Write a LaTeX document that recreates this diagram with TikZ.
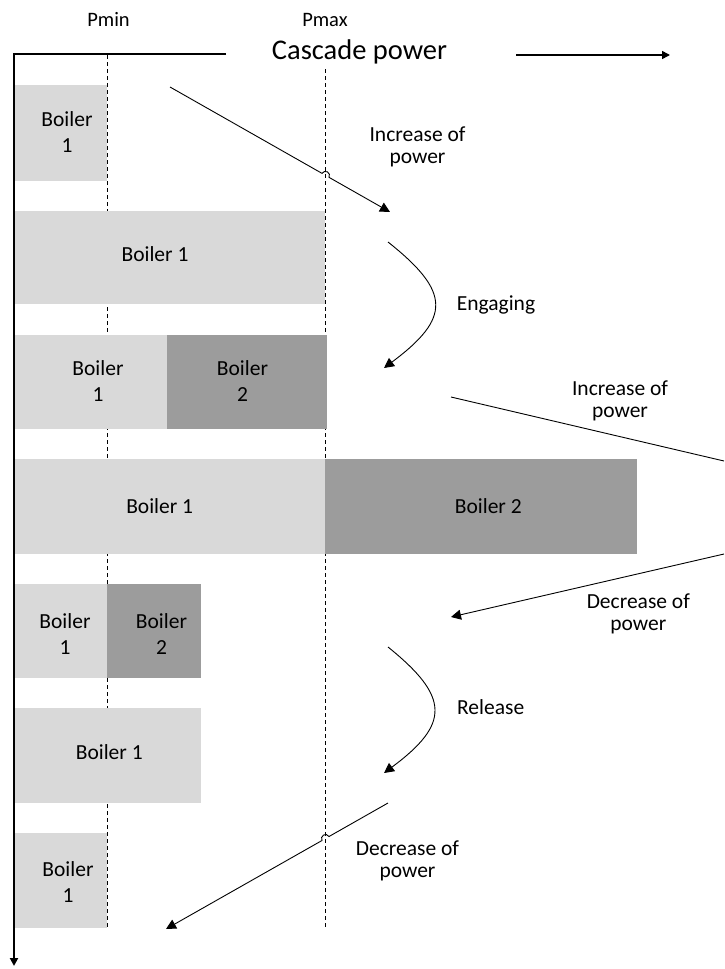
\documentclass[tikz,border=0pt]{standalone}
\usepackage{fontspec}
\setmainfont{Carlito}
\usetikzlibrary{arrows.meta,calc}
\definecolor{lightb}{HTML}{D9D9D9}
\definecolor{darkb}{HTML}{9C9C9C}
\begin{document}
\begin{tikzpicture}[x=1pt,y=1pt,
  lightbox/.style={fill=lightb},
  darkbox/.style={fill=darkb},
  lbl/.style={font=\fontsize{21.5}{26}\selectfont, align=center, inner sep=0pt},
  note/.style={font=\fontsize{21.5}{22}\selectfont, align=center, inner sep=0pt},
  single/.style={font=\fontsize{21.5}{26}\selectfont, inner sep=0pt, anchor=base},
  guide/.style={dash pattern=on 4pt off 3pt, line width=0.9pt},
  axisline/.style={line width=2pt, line join=miter},
  flow/.style={line width=0.9pt, -{Triangle[length=10pt,width=10pt]}},
]
\useasboundingbox (0,0) rectangle (724,-969);

% guide lines
\coordinate (pmintop) at (107.5,-55);
\coordinate (pminbot) at (107.5,-928);
\coordinate (pmaxtop) at (325.5,-69);
\coordinate (pmaxbot) at (325.5,-928);
\draw[guide] (pmintop) -- (pminbot);
\draw[guide] (pmaxtop) -- (pmaxbot);

% boxes
\fill[lightbox] (14,-85) rectangle (106.6,-181);
\fill[lightbox] (14,-211) rectangle (324.6,-304);
\fill[lightbox] (14,-335) rectangle (167,-429);
\fill[darkbox] (167,-335) rectangle (326.5,-429);
\fill[lightbox] (14,-459) rectangle (325,-554);
\fill[darkbox] (325,-459) rectangle (637,-554);
\fill[lightbox] (14,-584) rectangle (107,-678);
\fill[darkbox] (107,-584) rectangle (201,-678);
\fill[lightbox] (14,-708) rectangle (201,-803);
\fill[lightbox] (14,-833) rectangle (106.6,-928);

% box texts
\node[lbl] (t1) at (67,-131.8) {Boiler\\1};
\node[single] (t2) at (155,-261.7) {Boiler 1};
\node[lbl] (t3a) at (98,-381.1) {Boiler\\1};
\node[lbl] (t3b) at (242.5,-381.1) {Boiler\\2};
\node[single] (t4a) at (159.7,-513.3) {Boiler 1};
\node[single] (t4b) at (488.3,-513.3) {Boiler 2};
\node[lbl] (t5a) at (65,-634) {Boiler\\1};
\node[lbl] (t5b) at (161.5,-634) {Boiler\\2};
\node[single] (t6) at (109.3,-759.3) {Boiler 1};
\node[lbl] (t7) at (68,-882.5) {Boiler\\1};

% axes
\coordinate (axend) at (226,-54);
\coordinate (axorigin) at (14,-54);
\coordinate (axbottom) at (14,-966);
\draw[axisline,-{Triangle[length=8pt,width=8pt]}] (axend) -- (axorigin) -- (axbottom);
\coordinate (pwrs) at (516,-55);
\coordinate (pwre) at (670,-55);
\draw[line width=1.5pt,-{Triangle[length=8pt,width=8pt]}] (pwrs) -- (pwre);

% header texts
\node[font=\fontsize{20.5}{22}\selectfont, inner sep=0pt, anchor=base] (pmin) at (108.5,-26.7) {Pmin};
\node[font=\fontsize{20.5}{22}\selectfont, inner sep=0pt, anchor=base] (pmax) at (325,-26.7) {Pmax};
\node[font=\fontsize{28.5}{32}\selectfont, inner sep=0pt, anchor=base] (title) at (359.5,-59.3) {Cascade power};

% arrow 1: increase of power (with jump)
\coordinate (a1s) at (170,-87);
\coordinate (a1e) at (390,-212);
\coordinate (x1) at (325.5,-175.35);
\draw[flow] (a1s) -- ($(x1)!4pt!(a1s)$) arc[start angle=150.4, end angle=-29.6, radius=4pt] -- (a1e);
\node[note] (l1) at (417.5,-147.3) {Increase of\\power};

% engaging
\coordinate (e1s) at (388,-242);
\coordinate (e1e) at (384,-368);
\draw[flow] (e1s) .. controls (451,-292) and (451,-318) .. (e1e);
\node[single] (l2) at (496,-310) {Engaging};

% increase of power (right)
\coordinate (a3s) at (451,-397);
\coordinate (a3e) at (724,-461);
\draw[line width=0.9pt] (a3s) -- (a3e);
\node[note] (l3) at (620,-401) {Increase of\\power};

% decrease of power (right)
\coordinate (a4s) at (724,-554);
\coordinate (a4e) at (451,-617);
\draw[flow] (a4s) -- (a4e);
\node[note] (l4) at (638.3,-614) {Decrease of\\power};

% release
\coordinate (r1s) at (388,-647);
\coordinate (r1e) at (384,-773);
\draw[flow] (r1s) .. controls (450,-697) and (450,-724) .. (r1e);
\node[single] (l5) at (490.7,-714) {Release};

% decrease of power (bottom, with jump)
\coordinate (a6s) at (388,-803);
\coordinate (a6e) at (166,-929);
\coordinate (x6) at (325.5,-838.5);
\draw[flow] (a6s) -- ($(x6)!4pt!(a6s)$) arc[start angle=29.58, end angle=209.58, radius=4pt] -- (a6e);
\node[note] (l6) at (407.5,-860.8) {Decrease of\\power};
\end{tikzpicture}
\end{document}
